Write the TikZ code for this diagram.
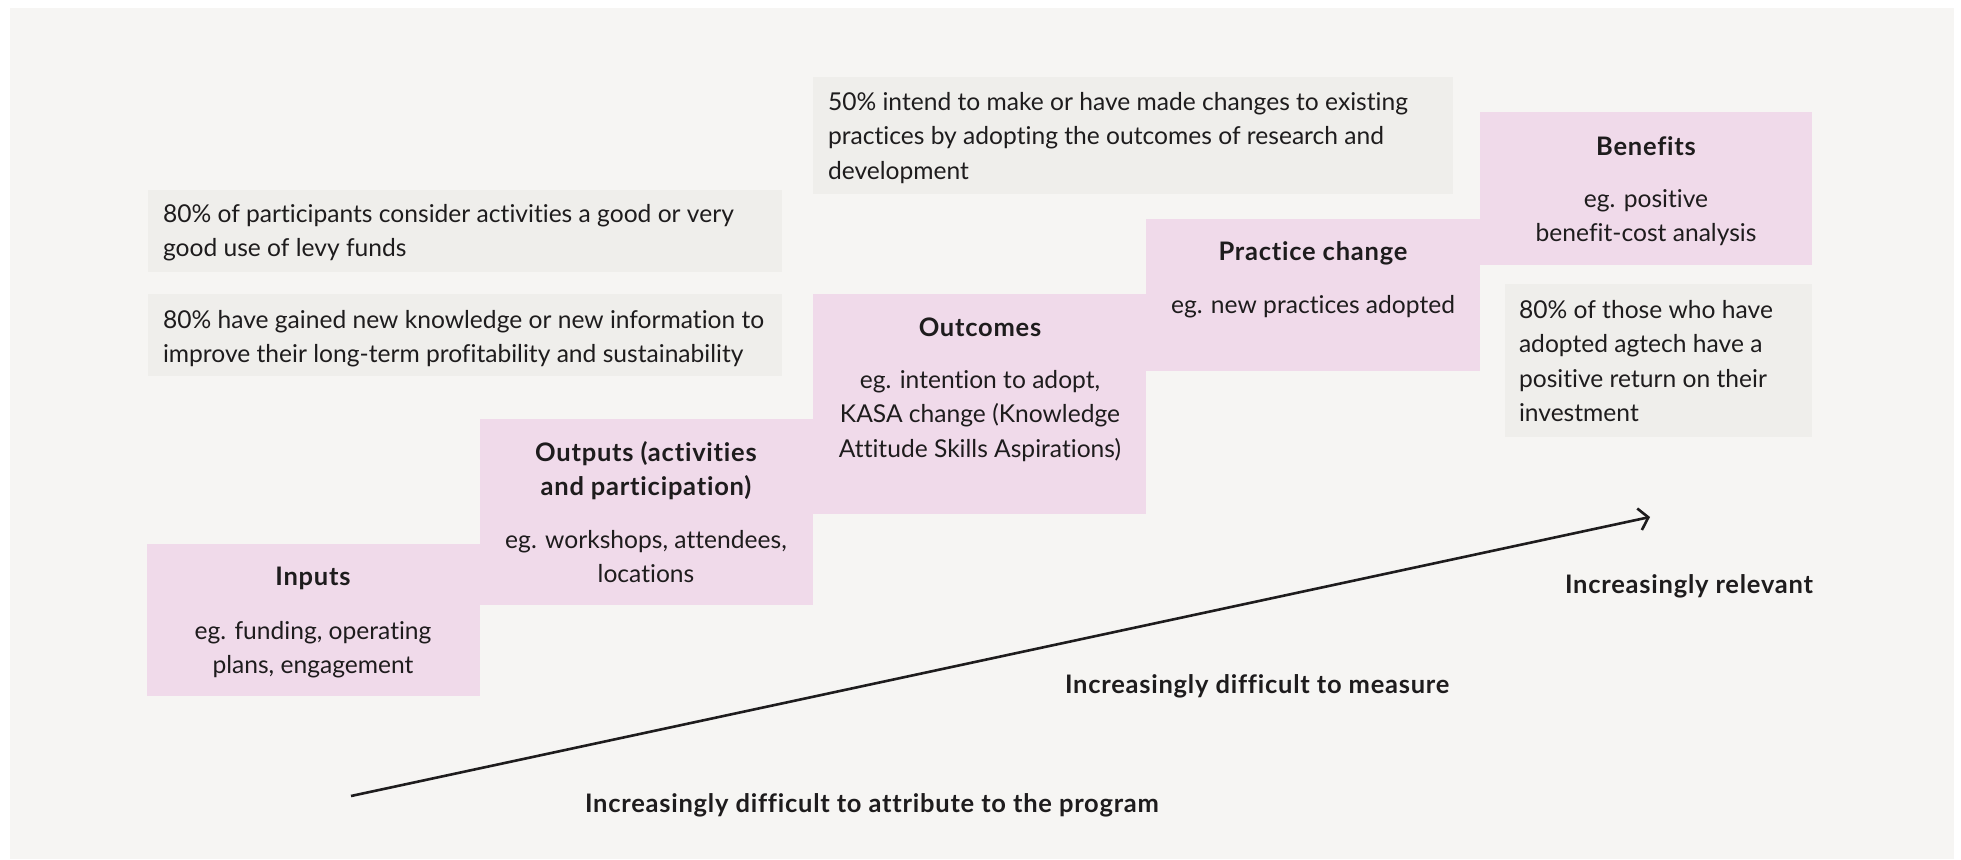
\documentclass[tikz,border=0pt]{standalone}
\usepackage{fontspec}
\setmainfont{Lato}[Ligatures=NoCommon]
\usetikzlibrary{arrows.meta}
\definecolor{bgc}{HTML}{F6F5F3}
\definecolor{greyc}{HTML}{EFEEEB}
\definecolor{pinkc}{HTML}{F0DAEA}
\definecolor{ink}{HTML}{1E1C1D}
\newcommand\txtfont{\fontsize{24.6}{34.6}\selectfont}
\newcommand\ttlfont{\fontsize{25.5}{34.6}\selectfont\bfseries\addfontfeature{LetterSpace=3}}
\newcommand\blockL[2]{\parbox[t]{#1}{\raggedright\txtfont #2}}
\newcommand\blockC[2]{\parbox[t]{#1}{\centering\txtfont #2}}
\newcommand\titleC[2]{\parbox[t]{#1}{\centering\ttlfont #2}}
\begin{document}
\begin{tikzpicture}[x=1pt,y=-1pt,
  every node/.style={inner sep=0pt, outer sep=0pt, text=ink},
  greybox/.style={fill=greyc, draw=none},
  pinkbox/.style={fill=pinkc, draw=none},
  bodytxt/.style={anchor=base west},
  ctxt/.style={anchor=base}
]
\useasboundingbox (0,0) rectangle (1961,859);
\fill[white] (0,0) rectangle (1961,859);
\fill[bgc] (10,8) rectangle (1954,859);

% grey boxes
\path[greybox] (148,190) rectangle (782,272) node[pos=0] (g1) {};
\path[greybox] (148,294) rectangle (782,376) node[pos=0] (g2) {};
\path[greybox] (813,77) rectangle (1453,194) node[pos=0] (g3) {};
\path[greybox] (1505,284) rectangle (1812,437) node[pos=0] (g4) {};

% pink steps
\path[pinkbox] (147,544) rectangle (480,696) node[pos=0] (inp) {};
\path[pinkbox] (480,419) rectangle (813,605) node[pos=0] (outp) {};
\path[pinkbox] (813,294) rectangle (1146,514) node[pos=0] (outc) {};
\path[pinkbox] (1146,219) rectangle (1480,371) node[pos=0] (prac) {};
\path[pinkbox] (1480,112) rectangle (1812,265) node[pos=0] (ben) {};

% grey texts
\node[bodytxt] (t1) at (163,222) {\blockL{660pt}{80\% of participants consider activities a good or very\\good use of levy funds}};
\node[bodytxt] (t2) at (163,328) {\blockL{660pt}{80\% have gained new knowledge or new information to\\improve their long-term profitability and sustainability}};
\node[bodytxt] (t3) at (828,110) {\blockL{660pt}{50\% intend to make or have made changes to existing\\practices by adopting the outcomes of research and\\development}};
\node[bodytxt] (t4) at (1519,318) {\blockL{320pt}{80\% of those who have\\adopted agtech have a\\positive return on their\\investment}};

% pink texts
\node[ctxt] (inpT) at (313,585) {\titleC{340pt}{Inputs}};
\node[ctxt] (inpB) at (313,639) {\blockC{340pt}{eg. funding, operating\\plans, engagement}};
\node[ctxt] (outpT) at (646,461) {\titleC{340pt}{Outputs (activities\\and participation)}};
\node[ctxt] (outpB) at (646,548) {\blockC{340pt}{eg. workshops, attendees,\\locations}};
\node[ctxt] (outcT) at (980,336) {\titleC{340pt}{Outcomes}};
\node[ctxt] (outcB) at (980,388) {\blockC{340pt}{eg. intention to adopt,\\KASA change (Knowledge\\Attitude Skills Aspirations)}};
\node[ctxt] (pracT) at (1313,260) {\titleC{340pt}{Practice change}};
\node[ctxt] (pracB) at (1313,313) {\blockC{340pt}{eg. new practices adopted}};
\node[ctxt] (benT) at (1646,155) {\titleC{340pt}{Benefits}};
\node[ctxt] (benB) at (1646,207) {\blockC{340pt}{eg. positive\\benefit-cost analysis}};

% arrow and labels
\coordinate (a0) at (351,796);
\coordinate (a1) at (1650,517);
\draw[ink, line width=2.6pt, -{Straight Barb[length=9pt,width=22pt,line width=2.6pt]}] (a0) -- (a1);
\node[anchor=base east, font=\ttlfont] (lrel) at (1813,593) {Increasingly relevant};
\node[anchor=base west, font=\ttlfont] (lmeas) at (1065,693) {Increasingly difficult to measure};
\node[anchor=base west, font=\ttlfont] (lattr) at (585,812) {Increasingly difficult to attribute to the program};
\end{tikzpicture}
\end{document}
